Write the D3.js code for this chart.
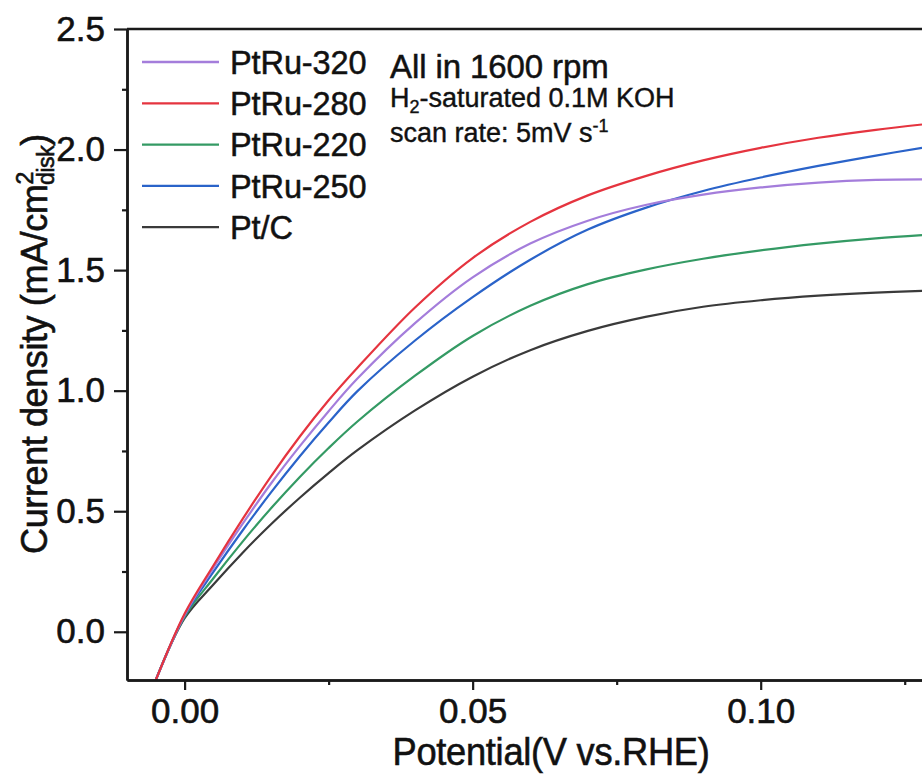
<!DOCTYPE html>
<html>
<head>
<meta charset="utf-8">
<script src="https://cdn.jsdelivr.net/npm/d3@7"></script>
<style>
  html, body { margin: 0; padding: 0; background: #fff; }
  svg { display: block; font-family: "Liberation Sans", Arial, sans-serif; }
</style>
</head>
<body>
<svg id="chart" width="922" height="776"></svg>
<script>
// ---- data ----
const potential = [-0.005, 0, 0.005, 0.01, 0.015, 0.02, 0.025, 0.03, 0.04, 0.05, 0.06, 0.07, 0.08, 0.09, 0.10, 0.11, 0.12, 0.128];
const ptru320 = [-0.2, 0.07, 0.265, 0.445, 0.615, 0.77, 0.915, 1.05, 1.28, 1.47, 1.61, 1.705, 1.77, 1.813, 1.843, 1.863, 1.874, 1.876];
const ptru280 = [-0.2, 0.075, 0.275, 0.465, 0.645, 0.81, 0.96, 1.095, 1.345, 1.55, 1.70, 1.81, 1.89, 1.955, 2.007, 2.049, 2.082, 2.104];
const ptru220 = [-0.2, 0.062, 0.222, 0.372, 0.512, 0.642, 0.762, 0.872, 1.062, 1.227, 1.352, 1.442, 1.502, 1.547, 1.582, 1.61, 1.632, 1.645];
const ptru250 = [-0.2, 0.068, 0.248, 0.418, 0.578, 0.728, 0.868, 0.998, 1.208, 1.388, 1.543, 1.668, 1.758, 1.828, 1.884, 1.932, 1.975, 2.007];
const ptc     = [-0.2, 0.056, 0.196, 0.326, 0.446, 0.556, 0.658, 0.753, 0.918, 1.058, 1.168, 1.248, 1.306, 1.348, 1.375, 1.394, 1.407, 1.414];

const seriesNames  = ["PtRu-320", "PtRu-280", "PtRu-220", "PtRu-250", "Pt/C"];
const seriesValues = [ptru320, ptru280, ptru220, ptru250, ptc];
const seriesColors = ["#a47ddb", "#e5343f", "#349a64", "#2a63c9", "#3a3a3a"];

const xTicks = [0, 0.05, 0.10];
const xMinorTicks = [0.025, 0.075, 0.125];
const yTicks = [0, 0.5, 1.0, 1.5, 2.0, 2.5];
const yMinorTicks = [0.25, 0.75, 1.25, 1.75, 2.25];

const xLabel = "Potential(V vs.RHE)";
const annotation1 = "All in 1600 rpm";

// ---- layout ----
const svg = d3.select("#chart");
const mLeft = 127, mRight = 922, mTop = 29, mBottom = 680;
const ink = "#111";

const x = d3.scaleLinear().domain([-0.01, 0.128]).range([mLeft, mRight]);
const y = d3.scaleLinear().domain([-0.2, 2.5]).range([mBottom, mTop]);

svg.append("defs").append("clipPath").attr("id", "plotclip")
  .append("rect").attr("x", mLeft).attr("y", mTop).attr("width", mRight - mLeft).attr("height", mBottom - mTop);

// curves
const line = d3.line()
  .x((d, i) => x(potential[i]))
  .y(d => y(d))
  .curve(d3.curveCatmullRom.alpha(0.5));

const plot = svg.append("g").attr("clip-path", "url(#plotclip)");
[4, 2, 3, 0, 1].forEach(k => {
  plot.append("path")
    .datum(seriesValues[k])
    .attr("fill", "none")
    .attr("stroke", seriesColors[k])
    .attr("stroke-width", 2.2)
    .attr("d", line);
});

// axes
const fontTick = 35;
const yAxis = d3.axisLeft(y).tickValues(yTicks).tickFormat(d3.format(".1f")).tickSize(13).tickSizeOuter(0).tickPadding(9);
svg.append("g").attr("transform", `translate(${mLeft},0)`).call(yAxis);
const yMinor = d3.axisLeft(y).tickValues(yMinorTicks).tickFormat("").tickSize(5).tickSizeOuter(0);
svg.append("g").attr("transform", `translate(${mLeft},0)`).call(yMinor);

const xAxis = d3.axisBottom(x).tickValues(xTicks).tickFormat(d3.format(".2f")).tickSize(10).tickPadding(8).tickSizeOuter(0);
svg.append("g").attr("transform", `translate(0,${mBottom})`).call(xAxis);
const xMinor = d3.axisBottom(x).tickValues(xMinorTicks).tickFormat("").tickSize(5).tickSizeOuter(0);
svg.append("g").attr("transform", `translate(0,${mBottom})`).call(xMinor);

svg.selectAll(".domain").attr("stroke", "#1a1a1a").attr("stroke-width", 2.5);
svg.selectAll(".tick line").attr("stroke", "#1a1a1a").attr("stroke-width", 2.2);
svg.selectAll(".tick text").attr("font-size", fontTick).attr("fill", ink)
  .attr("stroke", ink).attr("stroke-width", 0.6)
  .attr("font-family", "'Liberation Sans', Arial, sans-serif");

// top frame line
svg.append("line").attr("x1", mLeft).attr("x2", mRight).attr("y1", mTop).attr("y2", mTop)
  .attr("stroke", "#1a1a1a").attr("stroke-width", 2.5);

// x label
svg.append("text").attr("transform", "translate(551,765) scale(0.93,1)").attr("text-anchor", "middle")
  .attr("font-size", 39).attr("letter-spacing", -0.3).attr("fill", ink)
  .attr("stroke", ink).attr("stroke-width", 0.6).text(xLabel);

// y label with stacked super/subscript
const yl = svg.append("text")
  .attr("transform", "translate(47,344) rotate(-90)")
  .attr("text-anchor", "middle")
  .attr("font-size", 36).attr("letter-spacing", -0.4).attr("fill", ink)
  .attr("stroke", ink).attr("stroke-width", 0.6);
yl.append("tspan").text("Current density (mA/cm");
yl.append("tspan").attr("font-size", 23).attr("dy", -14).text("2");
yl.append("tspan").attr("font-size", 23).attr("dx", -12.8).attr("dy", 21).text("disk");
yl.append("tspan").attr("dy", -7).text(")");

// legend
const legendY0 = 62, legendStep = 41.3;
const lg = svg.append("g");
seriesNames.forEach((name, i) => {
  const yy = legendY0 + i * legendStep;
  lg.append("line").attr("x1", 142).attr("x2", 219).attr("y1", yy).attr("y2", yy)
    .attr("stroke", seriesColors[i]).attr("stroke-width", 2.3);
  lg.append("text").attr("x", 230).attr("y", yy).attr("dy", "0.36em")
    .attr("font-size", 32.5).attr("letter-spacing", -0.1).attr("fill", ink)
    .attr("stroke", ink).attr("stroke-width", 0.5).text(name);
});

// annotations
svg.append("text").attr("x", 390).attr("y", 78).attr("font-size", 33)
  .attr("letter-spacing", -0.1).attr("fill", ink).attr("stroke", ink).attr("stroke-width", 0.5).text(annotation1);

const a2 = svg.append("text").attr("x", 390).attr("y", 107).attr("font-size", 27)
  .attr("fill", ink).attr("stroke", ink).attr("stroke-width", 0.4);
a2.append("tspan").text("H");
a2.append("tspan").attr("font-size", 18).attr("dy", 6).text("2");
a2.append("tspan").attr("dy", -6).text("-saturated 0.1M KOH");

const a3 = svg.append("text").attr("x", 390).attr("y", 142).attr("font-size", 27)
  .attr("fill", ink).attr("stroke", ink).attr("stroke-width", 0.4);
a3.append("tspan").text("scan rate: 5mV s");
a3.append("tspan").attr("font-size", 18).attr("dy", -10).text("-1");
</script>
</body>
</html>
